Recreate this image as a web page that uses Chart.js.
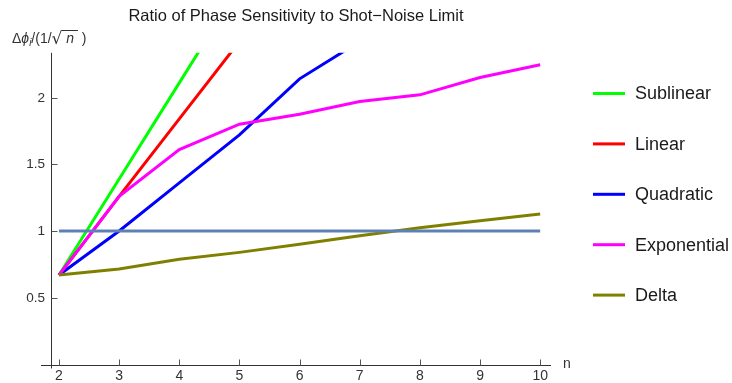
<!DOCTYPE html>
<html>
<head>
<meta charset="utf-8">
<script src="https://cdn.jsdelivr.net/npm/chart.js@4.4.0/dist/chart.umd.min.js"></script>
<style>
  html, body { margin: 0; padding: 0; background: #fff; }
</style>
</head>
<body>
<canvas id="ratioChart" width="732" height="383"></canvas>
<script>
// values (curves running off the top are clipped)
const nValues = [2, 3, 4, 5, 6, 7, 8, 9, 10];
const sublinear = [0.67, 1.39, 2.11, 2.83];
const linear = [0.67, 1.26, 1.84, 2.42];
const quadratic = [0.67, 1.00, 1.36, 1.72, 2.14, 2.42];
const exponential = [0.67, 1.26, 1.61, 1.80, 1.875, 1.97, 2.02, 2.15, 2.245];
const delta = [0.67, 0.715, 0.788, 0.84, 0.90, 0.965, 1.025, 1.077, 1.127];
const shotNoiseLimit = [1, 1, 1, 1, 1, 1, 1, 1, 1];

const seriesNames = ['Sublinear', 'Linear', 'Quadratic', 'Exponential', 'Delta'];
const seriesColors = ['#00ff00', '#ff0000', '#0000ff', '#ff00ff', '#808000'];
const seriesData = [sublinear, linear, quadratic, exponential, delta];

const xTicks = [2, 3, 4, 5, 6, 7, 8, 9, 10];
const xTickLabels = ['2', '3', '4', '5', '6', '7', '8', '9', '10'];
const yTicks = [0.5, 1, 1.5, 2];
const yTickLabels = ['0.5', '1', '1.5', '2'];

const FONT = '"Liberation Sans", Arial, sans-serif';

const toPoints = (ys) => ys.map((v, i) => ({ x: nValues[i], y: v }));

const datasets = seriesData.map((ys, i) => ({
  label: seriesNames[i],
  data: toPoints(ys),
  borderColor: seriesColors[i],
  backgroundColor: seriesColors[i],
  borderWidth: 3,
  pointRadius: 0,
  tension: 0,
  order: seriesNames.length - i
}));

datasets.push({
  label: 'Shot-noise limit',
  data: toPoints(shotNoiseLimit),
  borderColor: '#5e81b5',
  borderWidth: 3,
  pointRadius: 0,
  order: 0
});

// axes lines, inward ticks, y tick labels, axis labels and the legend
const decorations = {
  id: 'decorations',
  beforeDatasetsDraw(chart) {
    const { ctx, chartArea, scales } = chart;
    const x = scales.x, y = scales.y;
    const x0 = Math.round(chartArea.left) + 0.5;
    const y0 = Math.round(y.getPixelForValue(0)) + 0.5;
    ctx.save();
    ctx.lineWidth = 1;
    ctx.strokeStyle = '#333';
    ctx.beginPath();
    ctx.moveTo(chartArea.left - 10, y0);
    ctx.lineTo(chartArea.right, y0);
    ctx.moveTo(x0, chartArea.top);
    ctx.lineTo(x0, y0 + 3);
    ctx.stroke();

    ctx.strokeStyle = '#555';
    ctx.beginPath();
    yTicks.forEach(v => {
      const py = Math.round(y.getPixelForValue(v)) + 0.5;
      ctx.moveTo(x0, py);
      ctx.lineTo(x0 + 6, py);
    });
    xTicks.forEach(v => {
      const px = Math.round(x.getPixelForValue(v)) + 0.5;
      ctx.moveTo(px, y0);
      ctx.lineTo(px, y0 - 6);
    });
    ctx.stroke();

    // y tick labels, right aligned just left of the axis
    ctx.fillStyle = '#333';
    ctx.font = '13.5px ' + FONT;
    ctx.textAlign = 'right';
    ctx.textBaseline = 'middle';
    yTicks.forEach((v, i) => {
      ctx.fillText(yTickLabels[i], chartArea.left - 6, y.getPixelForValue(v) + 0.5);
    });
    ctx.restore();
  },
  afterDraw(chart) {
    const { ctx, chartArea } = chart;
    ctx.save();

    // legend
    ctx.textBaseline = 'middle';
    ctx.textAlign = 'left';
    ctx.font = '18px ' + FONT;
    seriesNames.forEach((name, i) => {
      const ly = 93.5 + i * 50.4;
      ctx.strokeStyle = seriesColors[i];
      ctx.lineWidth = 3;
      ctx.beginPath();
      ctx.moveTo(593, ly);
      ctx.lineTo(625, ly);
      ctx.stroke();
      ctx.fillStyle = '#1a1a1a';
      ctx.fillText(name, 635, ly + 1);
    });

    // x axis label
    ctx.fillStyle = '#333';
    ctx.font = '14px ' + FONT;
    ctx.fillText('n', 563, chartArea.bottom);

    // y axis label: Δϕi/(1/√n )
    ctx.textBaseline = 'alphabetic';
    let cx = 12;
    const base = 43;
    const put = (txt, font, dy) => {
      ctx.font = font;
      ctx.fillText(txt, cx, base + (dy || 0));
      cx += ctx.measureText(txt).width;
    };
    put('Δ', '14px ' + FONT);
    put('ϕ', 'italic 14px ' + FONT);
    put('i', 'italic 10px ' + FONT, 3);
    put('/(1/', '14px ' + FONT);
    put('√', '17px "DejaVu Sans", ' + FONT, 1);
    const nStart = cx;
    put(' n ', 'italic 14px ' + FONT);
    ctx.strokeStyle = '#333';
    ctx.lineWidth = 1;
    ctx.beginPath();
    ctx.moveTo(nStart - 1, 30.5);
    ctx.lineTo(cx, 30.5);
    ctx.stroke();
    put(' )', '14px ' + FONT);

    ctx.restore();
  }
};

const ctx = document.getElementById('ratioChart');

new Chart(ctx, {
  type: 'line',
  data: { datasets: datasets },
  options: {
    responsive: false,
    animation: false,
    devicePixelRatio: 1,
    layout: {
      padding: { left: 41, right: 181, top: 0, bottom: 0 }
    },
    plugins: {
      legend: { display: false },
      tooltip: { enabled: false },
      title: {
        display: true,
        text: 'Ratio of Phase Sensitivity to Shot\u2212Noise Limit',
        color: '#1a1a1a',
        font: { family: FONT, size: 16.5, weight: 'normal' },
        padding: { top: 7, bottom: 26 }
      }
    },
    scales: {
      x: {
        type: 'linear',
        min: 1.867,
        max: 10.18,
        grid: { display: false, drawTicks: false, tickLength: 0 },
        border: { display: false },
        afterBuildTicks: (scale) => { scale.ticks = xTicks.map(v => ({ value: v })); },
        afterFit: (scale) => { scale.height = 18.5; },
        ticks: {
          padding: 3,
          color: '#333',
          font: { family: FONT, size: 14 },
          maxRotation: 0,
          callback: (v, i) => xTickLabels[i]
        }
      },
      y: {
        type: 'linear',
        min: 0,
        max: 2.335,
        grid: { display: false, drawTicks: false, tickLength: 0 },
        border: { display: false },
        afterBuildTicks: (scale) => { scale.ticks = yTicks.map(v => ({ value: v })); },
        afterFit: (scale) => { scale.width = 10; },
        ticks: { display: false }
      }
    }
  },
  plugins: [decorations]
});
</script>
</body>
</html>
